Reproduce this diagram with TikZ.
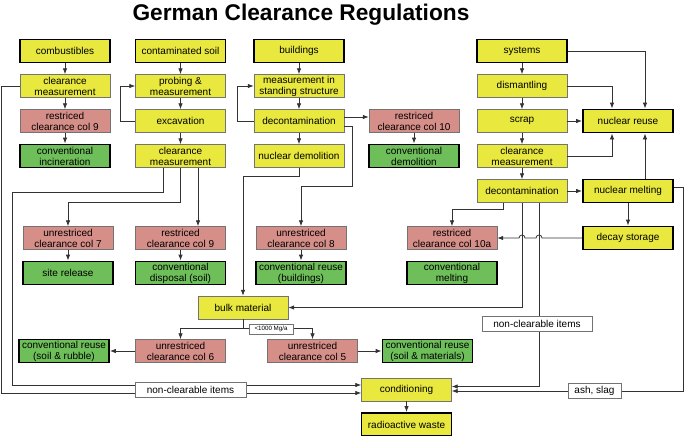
\documentclass[tikz,border=0pt]{standalone}
\usepackage{fontspec}
\setmainfont{Liberation Sans}
\usepackage{tikz}
\usetikzlibrary{arrows,arrows.meta,positioning}
\definecolor{boxyellow}{RGB}{232,232,62}
\definecolor{boxpink}{RGB}{214,142,136}
\definecolor{boxgreen}{RGB}{110,190,90}

\begin{document}
\begin{tikzpicture}[x=1pt,y=-1pt,node distance=35pt,
box/.style={
rectangle,
draw=black!55,
thin,
minimum width=90pt,
minimum height=23pt,
inner sep=1pt,
align=center,
font=\fontsize{10}{11}\selectfont
},
yel/.style={box,fill=boxyellow},
start/.style={box,fill=boxyellow,draw=black,line width=1.8pt},
red/.style={box,fill=boxpink},
grn/.style={box,fill=boxgreen,draw=black,line width=1.8pt},
tag/.style={rectangle,draw=black!55,fill=white,thin,minimum height=15pt,inner sep=1pt,font=\fontsize{10}{11}\selectfont},
to/.style={->,>={Latex[length=6pt,width=4.5pt]},thick,draw=black!80},
]
\useasboundingbox (0,0) rectangle (685,436);

\node (title) at (301,15) {\fontsize{22.7}{26}\selectfont\bfseries German Clearance Regulations};

% combustibles
\node (comb) [start] at (65,51) {combustibles};
\node (cm1) [yel,below of=comb] {clearance\\measurement};
\node (r9a) [red,below of=cm1] {restriced\\clearance col 9};
\node (inc) [grn,below of=r9a] {conventional\\incineration};

% soil
\node (soil) [start] at (180.5,51) {contaminated soil};
\node (probe) [yel,below of=soil] {probing \&\\measurement};
\node (excav) [yel,below of=probe] {excavation};
\node (cm2) [yel,below of=excav] {clearance\\measurement};

% buildings
\node (build) [start] at (299,51) {buildings};
\node (stand) [yel,below of=build] {measurement in\\standing structure};
\node (decon1) [yel,below of=stand] {decontamination};
\node (demol) [yel,below of=decon1] {nuclear demolition};
\node (r10) [red,right of=decon1,node distance=115pt] {restriced\\clearance col 10};
\node (cdemol) [grn,below of=r10] {conventional\\demolition};

% systems
\node (sys) [start] at (522,51) {systems};
\node (dism) [yel,below of=sys] {dismantling};
\node (scrap) [yel,below of=dism] {scrap};
\node (cm3) [yel,below of=scrap] {clearance\\measurement};
\node (decon2) [yel,below of=cm3] {decontamination};
\node (reuse) [start,right of=scrap,node distance=106pt] {nuclear reuse};
\node (melt) [start,right of=decon2,node distance=106pt] {nuclear melting};
\node (decay) [start,below of=melt,node distance=47pt] {decay storage};

% clearance rows
\node (u7) [red] at (68,238) {unrestriced\\clearance col 7};
\node (site) [grn,below of=u7] {site release};
\node (r9b) [red] at (180.5,238) {restriced\\clearance col 9};
\node (disp) [grn,below of=r9b] {conventional\\disposal (soil)};
\node (u8) [red] at (301,238) {unrestriced\\clearance col 8};
\node (bldg) [grn,below of=u8] {conventional reuse\\(buildings)};
\node (r10a) [red] at (452,238) {restriced\\clearance col 10a};
\node (cmelt) [grn,below of=r10a] {conventional\\melting};

\node (bulk) [yel] at (243,307.5) {bulk material};
\node (u6) [red] at (180.5,351) {unrestriced\\clearance col 6};
\node (rubble) [grn] at (64,351) {conventional reuse\\(soil \& rubble)};
\node (u5) [red] at (312.5,351) {unrestriced\\clearance col 5};
\node (mats) [grn] at (427.5,351) {conventional reuse\\(soil \& materials)};

\node (cond) [yel] at (406.5,389.5) {conditioning};
\node (waste) [start,below of=cond] {radioactive waste};

% combustibles chain
\draw[to] (comb) -- (cm1);
\draw[to] (cm1) -- (r9a);
\draw[to] (r9a) -- (inc);
\draw[to] (cm1.west) -- ++(-18,0) |- ([yshift=-3.5pt]cond.west);

% soil chain
\draw[to] (soil) -- (probe);
\draw[to] (probe) -- (excav);
\draw[to] (excav) -- (cm2);
\draw[to] (excav.west) -- ++(-15,0) |- (probe.west);
\draw[to] ([xshift=17.5pt]cm2.south) -- ([xshift=17.5pt]r9b.north);
\draw[to] (cm2.south) -- ++(0,35) -| (u7.north);
\draw[to] ([xshift=-17.5pt]cm2.south) -- ++(0,25) -- ++(-151,0) |- ([yshift=4.5pt]cond.west);
\draw[to] (u7) -- (site);
\draw[to] (r9b) -- (disp);

% buildings chain
\draw[to] (build) -- (stand);
\draw[to] (stand) -- (decon1);
\draw[to] (decon1) -- (demol);
\draw[to] (decon1.west) -- ++(-16,0) |- (stand.west);
\draw[to] ([yshift=4pt]decon1.east) -- ([yshift=4pt]r10.west);
\draw[to] (r10) -- (cdemol);
\draw[to] ([yshift=-5pt]decon1.east) -- ++(8,0) -- ++(0,60) -| (u8.north);
\draw[to] (u8) -- (bldg);
\draw[to] (demol.south) -- ++(0,9) -| (bulk.north);

% systems chain
\draw[to] (sys) -- (dism);
\draw[to] (dism) -- (scrap);
\draw[to] (scrap) -- (cm3);
\draw[to] (cm3) -- (decon2);
\draw[to] (sys.east) -| ([xshift=17pt]reuse.north);
\draw[to] (dism.east) -| ([xshift=-16pt]reuse.north);
\draw[to] (scrap) -- (reuse);
\draw[to] (cm3.east) -| ([xshift=-16pt]reuse.south);
\draw[to] ([xshift=17pt]melt.north) -- ([xshift=17pt]reuse.south);
\draw[to] (decon2) -- (melt);
\draw[to] (melt) -- (decay);
\draw[to] ([yshift=4pt]melt.east) -- ++(9,0) |- ([yshift=-1.5pt]cond.east);
\draw[to] ([xshift=-19pt]decon2.south) -- ++(0,7) -| (r10a.north);
\draw[to] (decon2.south) |- (bulk.east);
\draw[to] ([xshift=17pt]decon2.south) |- ([yshift=3pt]cond.east);
\draw[to] (decay.west) -- ([xshift=20pt]decon2.south |- decay.west)
  arc[start angle=0,end angle=180,radius=3pt]
  -- ([xshift=3pt]decon2.south |- decay.west)
  arc[start angle=0,end angle=180,radius=3pt] -- (r10a.east);

% bulk material
\draw[to] (bulk.south) -- ++(0,9) -| (u6.north);
\draw[to] (bulk.south) -- ++(0,9) -| (u5.north);
\draw[to] (u6) -- (rubble);
\draw[to] (u5) -- (mats);
\draw[to] (cond) -- (waste);

% labels on the lines
\node (lim) [tag,minimum width=44pt,minimum height=10pt,font=\fontsize{6.2}{7}\selectfont] at (271,329) {<1000 Mg/a};
\node (nc1) [tag,minimum width=111pt] at (190.5,389.5) {non-clearable items};
\node (nc2) [tag,minimum width=110pt] at (537,324) {non-clearable items};
\node (ash) [tag,minimum width=53pt] at (594.5,391) {ash, slag};
\end{tikzpicture}
\end{document}
